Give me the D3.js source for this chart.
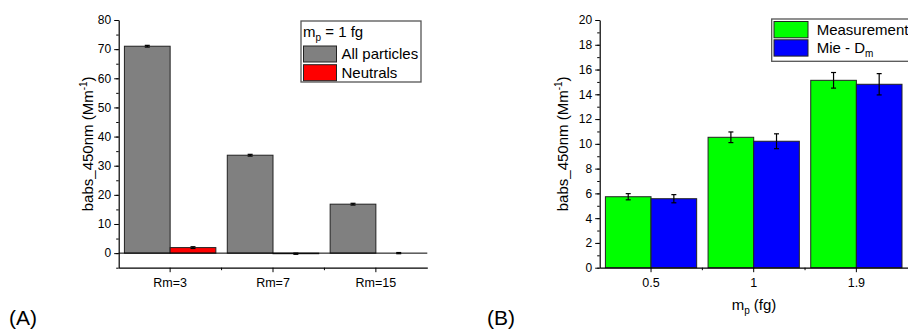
<!DOCTYPE html>
<html>
<head>
<meta charset="utf-8">
<script src="https://cdn.jsdelivr.net/npm/d3@7"></script>
<style>
  body { margin: 0; background: #fff; }
  text { font-family: Arial, "Liberation Sans", sans-serif; fill: #000; }
</style>
</head>
<body>
<div id="chart"></div>
<script>
// panel A data
var catsA = ["Rm=3", "Rm=7", "Rm=15"];
var seriesA = ["All particles", "Neutrals"];
var allParticles = [71.0, 33.6, 16.8];
var allParticlesErr = [0.3, 0.3, 0.3];
var neutrals = [1.9, -0.2, 0.0];
var neutralsErr = [0.3, 0.2, 0.2];
var ticksA = [0, 10, 20, 30, 40, 50, 60, 70, 80];

// panel B data
var catsB = ["0.5", "1", "1.9"];
var seriesB = ["Measurement", "Mie - D"];
var measurement = [5.73, 10.53, 15.13];
var measurementErr = [0.25, 0.43, 0.63];
var mie = [5.57, 10.21, 14.81];
var mieErr = [0.33, 0.6, 0.86];
var ticksB = [0, 2, 4, 6, 8, 10, 12, 14, 16, 18, 20];

var width = 908, height = 330;

var svg = d3.select("#chart")
    .append("svg")
    .attr("width", width)
    .attr("height", height);

function drawPanel(opt) {
    var g = svg.append("g");

    var x = d3.scaleBand().domain(opt.cats).range([opt.left, opt.right]).padding(0);
    var inner = d3.scaleBand().domain([0, 1]).range([0, x.bandwidth()]).paddingOuter(0.125).paddingInner(0);
    var y = d3.scaleLinear().domain(opt.yDomain).range([opt.bottom, opt.top]);

    // bars
    opt.series.forEach(function(s, si) {
        var bars = g.append("g");
        bars.selectAll("rect")
            .data(s.values)
            .enter()
            .append("rect")
            .attr("x", function(d, i) { return x(opt.cats[i]) + inner(si); })
            .attr("width", inner.bandwidth())
            .attr("y", function(d) { return y(Math.max(0, d)); })
            .attr("height", function(d) { return Math.abs(y(d) - y(0)); })
            .attr("fill", s.color)
            .attr("stroke", "#222")
            .attr("stroke-width", 1);
    });

    // zero line (panel A)
    if (opt.yDomain[0] < 0) {
        g.append("line")
            .attr("x1", opt.left).attr("x2", opt.right)
            .attr("y1", y(0)).attr("y2", y(0))
            .attr("stroke", "#000").attr("stroke-width", 1);
    }

    // error bars
    opt.series.forEach(function(s, si) {
        var eb = g.append("g").attr("stroke", "#000").attr("stroke-width", 1.2);
        s.values.forEach(function(v, i) {
            var cx = x(opt.cats[i]) + inner(si) + inner.bandwidth() / 2;
            var e = s.errors[i];
            eb.append("line").attr("x1", cx).attr("x2", cx).attr("y1", y(v - e)).attr("y2", y(v + e));
            eb.append("line").attr("x1", cx - 2.5).attr("x2", cx + 2.5).attr("y1", y(v - e)).attr("y2", y(v - e));
            eb.append("line").attr("x1", cx - 2.5).attr("x2", cx + 2.5).attr("y1", y(v + e)).attr("y2", y(v + e));
        });
    });

    // y axis
    var minorY = d3.range(opt.yMinorStart, opt.yDomain[1] + 0.001, opt.yMinorStep);
    g.append("g")
        .attr("transform", "translate(" + opt.left + ",0)")
        .call(d3.axisLeft(y).tickValues(minorY).tickSize(2.5).tickFormat(""))
        .call(function(a) { a.select(".domain").remove(); });
    var yAxis = g.append("g")
        .attr("transform", "translate(" + opt.left + ",0)")
        .call(d3.axisLeft(y).tickValues(opt.yTicks).tickSize(4.5).tickPadding(3).tickSizeOuter(0));
    yAxis.selectAll("text").style("font-size", "12px").attr("fill", "#000");

    // x axis
    var xAxis = g.append("g")
        .attr("transform", "translate(0," + opt.bottom + ")")
        .call(d3.axisBottom(x).tickSize(4.5).tickPadding(6).tickSizeOuter(0));
    xAxis.selectAll("text").style("font-size", "12.5px").attr("fill", "#000");
    var bounds = opt.cats.slice(1).map(function(c) { return x(c); });
    g.append("g").selectAll("line")
        .data(bounds)
        .enter()
        .append("line")
        .attr("x1", function(d) { return d; }).attr("x2", function(d) { return d; })
        .attr("y1", opt.bottom).attr("y2", opt.bottom + 2.5)
        .attr("stroke", "#000");
    g.selectAll(".domain").attr("stroke", "#000").attr("stroke-width", 1.2);

    // y label
    var yl = g.append("text")
        .attr("transform", "translate(" + opt.yLabelX + "," + ((opt.top + opt.bottom) / 2) + ") rotate(-90)")
        .attr("text-anchor", "middle")
        .style("font-size", "15px");
    yl.append("tspan").text("babs_450nm (Mm");
    yl.append("tspan").attr("dy", -6).style("font-size", "10px").text("-1");
    yl.append("tspan").attr("dy", 6).text(")");

    // panel letter
    g.append("text")
        .attr("x", opt.letterX).attr("y", 325)
        .style("font-size", "21px")
        .text(opt.letter);

    return { x: x, y: y, g: g };
}

var pA = drawPanel({
    cats: catsA,
    series: [
        { values: allParticles, errors: allParticlesErr, color: "#808080" },
        { values: neutrals, errors: neutralsErr, color: "#ff0000" }
    ],
    left: 118.7, right: 427.3, top: 20, bottom: 267.7,
    yDomain: [-5, 80], yTicks: ticksA, yMinorStart: -5, yMinorStep: 5,
    yLabelX: 93, letter: "(A)", letterX: 9
});

var pB = drawPanel({
    cats: catsB,
    series: [
        { values: measurement, errors: measurementErr, color: "#00ff00" },
        { values: mie, errors: mieErr, color: "#0000ff" }
    ],
    left: 599.7, right: 907.7, top: 20, bottom: 267.7,
    yDomain: [0, 20], yTicks: ticksB, yMinorStart: 0, yMinorStep: 1,
    yLabelX: 568, letter: "(B)", letterX: 487
});

// x label panel B
var xl = pB.g.append("text")
    .attr("x", 754).attr("y", 310)
    .attr("text-anchor", "middle")
    .style("font-size", "15px");
xl.append("tspan").text("m");
xl.append("tspan").attr("dy", 4).style("font-size", "10px").text("p");
xl.append("tspan").attr("dy", -4).text(" (fg)");

// legend A
var legA = svg.append("g");
legA.append("rect")
    .attr("x", 301).attr("y", 21).attr("width", 120).attr("height", 61)
    .attr("fill", "#fff").attr("stroke", "#555").attr("stroke-width", 1.3);
var lt = legA.append("text").attr("x", 303).attr("y", 37).style("font-size", "15px");
lt.append("tspan").text("m");
lt.append("tspan").attr("dy", 4).style("font-size", "10px").text("p");
lt.append("tspan").attr("dy", -4).text(" = 1 fg");
legA.selectAll("rect.sw")
    .data(seriesA)
    .enter()
    .append("rect")
    .attr("class", "sw")
    .attr("x", 303.5).attr("y", function(d, i) { return 46 + i * 18.7; })
    .attr("width", 33).attr("height", 16)
    .attr("fill", function(d, i) { return ["#808080", "#ff0000"][i]; })
    .attr("stroke", "#222");
legA.selectAll("text.lab")
    .data(seriesA)
    .enter()
    .append("text")
    .attr("class", "lab")
    .attr("x", 341.5).attr("y", function(d, i) { return 59 + i * 18.7; })
    .style("font-size", "15px")
    .text(function(d) { return d; });

// legend B
var legB = svg.append("g");
legB.append("rect")
    .attr("x", 771.7).attr("y", 19).attr("width", 150).attr("height", 42.3)
    .attr("fill", "#fff").attr("stroke", "#555").attr("stroke-width", 1.3);
legB.selectAll("rect.sw")
    .data(seriesB)
    .enter()
    .append("rect")
    .attr("class", "sw")
    .attr("x", 774).attr("y", function(d, i) { return 21.5 + i * 18.3; })
    .attr("width", 34).attr("height", 16.3)
    .attr("fill", function(d, i) { return ["#00ff00", "#0000ff"][i]; })
    .attr("stroke", "#222");
legB.selectAll("text.lab")
    .data(seriesB)
    .enter()
    .append("text")
    .attr("class", "lab")
    .attr("x", 816.7).attr("y", function(d, i) { return 35 + i * 18.3; })
    .style("font-size", "15px")
    .each(function(d, i) {
        var t = d3.select(this);
        t.append("tspan").text(d);
        if (i === 1) t.append("tspan").attr("dy", 4).style("font-size", "10px").text("m");
    });
</script>
</body>
</html>
